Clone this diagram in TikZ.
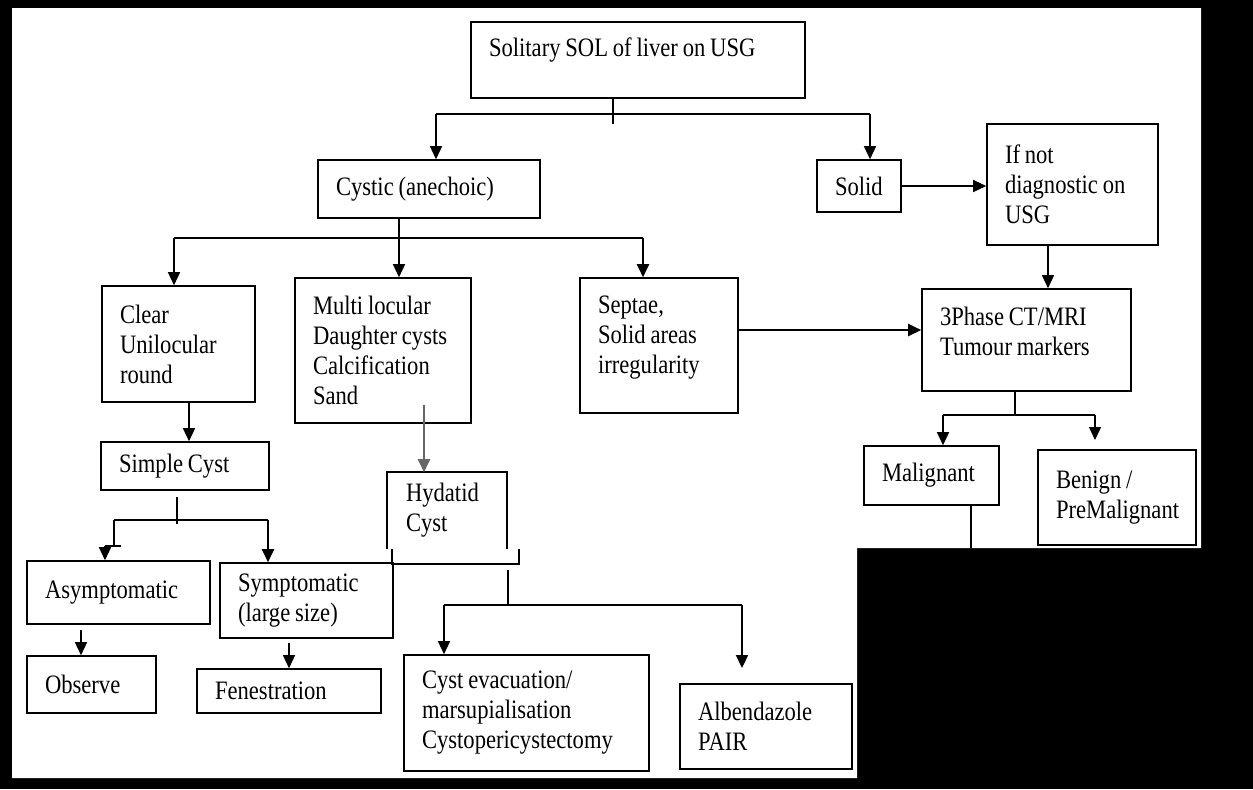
\documentclass[tikz,border=0pt]{standalone}
\usepackage{fontspec}
\setmainfont{Liberation Serif}[FakeStretch=0.85]
\usetikzlibrary{arrows.meta}
\newcommand\boxfont{\fontsize{13.3}{15}\selectfont\spaceskip=2.4pt plus 1pt minus 0.5pt\relax}

\begin{document}
\begin{tikzpicture}[x=0.5pt,y=-0.5pt,>={Triangle[length=6.5pt,width=6pt]},
  font=\boxfont,
  box/.style={draw,line width=0.8pt,inner xsep=9pt,inner ysep=2pt,align=flush left},
  link/.style={line width=0.7pt},
  heavy/.style={line width=1.1pt}]
\fill[black] (0,0) rectangle (1253,789);
\fill[white] (12,8) -- (1201,8) -- (1201,548) -- (857,548) -- (857,778) -- (12,778) -- cycle;
\node[box,text width=149pt,minimum height=38pt,text depth=13pt] (solitary) at (638,60) {Solitary SOL of liver on USG};
\node[box,text width=93pt,minimum height=29pt] (cystic) at (429,189) {Cystic (anechoic)};
\node[box,text width=24pt,minimum height=26pt] (solid) at (859,186) {Solid};
\node[box,text width=67.5pt,minimum height=60.5pt] (ifnot) at (1072.5,184.5) {If not\\ diagnostic on\\ USG};
\node[box,text width=86.5pt,minimum height=51pt,text depth=24pt] (phase) at (1026.5,340) {3Phase CT/MRI\\ Tumour markers};
\node[box,text width=58.5pt,minimum height=58pt] (clear) at (178.5,344) {Clear\\ Unilocular\\ round};
\node[box,text width=70pt,minimum height=72.5pt] (multi) at (383,350.5) {Multi locular\\ Daughter cysts\\ Calcification\\ Sand};
\node[box,text width=61pt,minimum height=67.5pt,text depth=41pt] (septae) at (659,345.5) {Septae,\\ Solid areas\\ irregularity};
\node[box,text width=66pt,minimum height=24pt] (simple) at (185,466) {Simple Cyst};
\node[box,draw=none,text width=41pt,minimum height=37.5pt] (hydatid) at (447,510.5) {Hydatid\\ Cyst};
\node[box,text width=73.5pt,minimum height=31.5pt] (asym) at (118.5,592.5) {Asymptomatic};
\node[box,text width=68.5pt,minimum height=37.5pt] (sym) at (306.5,600.5) {Symptomatic\\ (large size)};
\node[box,text width=46.5pt,minimum height=28.5pt] (observe) at (91.5,684.5) {Observe};
\node[box,text width=74pt,minimum height=22pt] (fen) at (289,691) {Fenestration};
\node[box,text width=104.5pt,minimum height=58pt] (evac) at (526.5,713) {Cyst evacuation/\\ marsupialisation\\ Cystopericystectomy};
\node[box,text width=68pt,minimum height=42.5pt] (alb) at (766,726.5) {Albendazole\\ PAIR};
\node[box,text width=49.5pt,minimum height=29.5pt] (malig) at (931.5,475.5) {Malignant};
\node[box,text width=61pt,minimum height=47.5pt] (benign) at (1117,497.5) {Benign /\\ PreMalignant};
\draw[line width=0.8pt] (hydatid.south west) |- (hydatid.north east) -- (hydatid.south east);
\draw[line width=0.8pt] ([xshift=2.5pt]hydatid.south west) -- ++(0,15) -| ([xshift=6pt]hydatid.south east);
\coordinate (s0) at (613,114);
\coordinate (sL) at (436,114);
\coordinate (sR) at (870,114);
\draw[link] (solitary.south -| s0) -- ++(0,25);
\draw[link] (sL) -- (sR);
\draw[link,->] (sL) -- (sL |- cystic.north);
\draw[link,->] (sR) -- (sR |- solid.north);
\draw[link,->] (solid.east) -- (solid.east -| ifnot.west);
\draw[link,->] ([xshift=-12.25pt]ifnot.south) -- ([xshift=-12.25pt]ifnot.south |- phase.north);
\coordinate (c0) at (399,238);
\coordinate (cL) at (174,238);
\coordinate (cR) at (643,238);
\draw[link] (cL) -- (cR);
\draw[link,->] (cystic.south -| c0) -- (c0 |- multi.north);
\draw[link,->] (cL) -- (cL |- clear.north);
\draw[heavy,->] (cR) -- (cR |- septae.north);
\coordinate (sp) at (700,330);
\draw[heavy,->] (septae.east |- sp) -- (sp -| phase.west);
\draw[link,->] ([xshift=5.25pt]clear.south) -- ([xshift=5.25pt]clear.south |- simple.north);
\coordinate (m0) at ([shift={(41,-19)}]multi.south);
\draw[heavy,gray!80!black,->] (m0) -- (m0 |- hydatid.north);
\coordinate (p0) at (177,520);
\coordinate (pL) at (114,520);
\coordinate (pR) at (268,520);
\coordinate (pA) at (105,546);
\draw[link] (p0) ++(0,-23) -- ++(0,27);
\draw[link] (pL) -- (pR);
\draw[link] (pL) -- (pL |- pA);
\draw[heavy] (pA) -- ++(16,0);
\draw[link,->] (pA) -- (pA |- asym.north);
\draw[heavy,->] (pR) -- (pR |- sym.north);
\coordinate (a0) at (81,630);
\draw[link,->] (a0) -- (a0 |- observe.north);
\coordinate (y0) at (289,643);
\draw[link,->] (y0) -- (y0 |- fen.north);
\coordinate (h0) at (508,570);
\coordinate (hL) at (444,605);
\coordinate (hR) at (742,605);
\coordinate (aT) at (742,668);
\draw[link] (h0) -- (h0 |- hL);
\draw[link] (hL) -- (hR);
\draw[link,->] (hL) -- (hL |- evac.north);
\draw[heavy,->] (hR) -- (aT);
\coordinate (q0) at (1015,415);
\coordinate (qL) at (943,415);
\coordinate (qR) at (1095,415);
\coordinate (bT) at (1095,440);
\draw[link] (phase.south -| q0) -- (q0);
\draw[link] (qL) -- (qR);
\draw[link,->] (qL) -- (qL |- malig.north);
\draw[link,->] (qR) -- (bT);
\coordinate (mk) at (971,548);
\draw[link] (malig.south -| mk) -- (mk);
\end{tikzpicture}
\end{document}
